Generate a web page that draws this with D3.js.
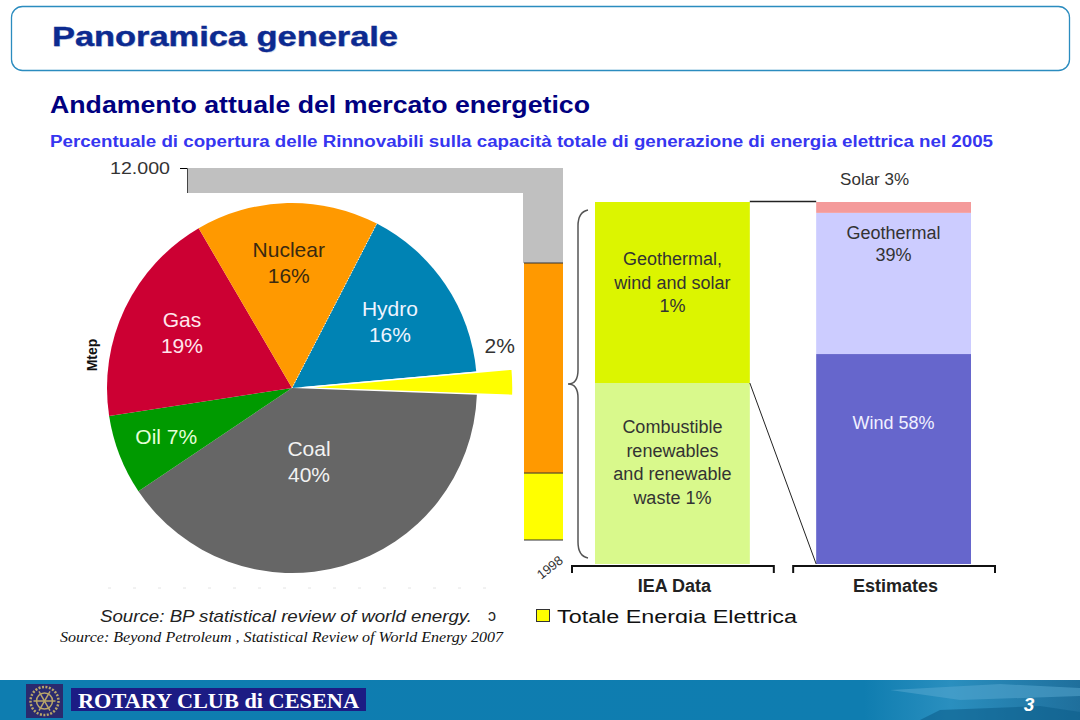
<!DOCTYPE html>
<html><head><meta charset="utf-8">
<script src="https://cdn.jsdelivr.net/npm/d3@7"></script>
<style>
body{margin:0;background:#fff}
svg{display:block;font-family:"Liberation Sans",Arial,sans-serif}
</style>
</head><body>
<svg id="c" width="1080" height="720"></svg>
<script>
// ---------------- DATA ----------------
const pieCategories = ["Hydro", "Other", "Coal", "Oil", "Gas", "Nuclear"];
const pieValues = [16, 2, 40, 7, 19, 16];
const pieLabels = [["Hydro", "16%"], ["2%"], ["Coal", "40%"], ["Oil 7%"], ["Gas", "19%"], ["Nuclear", "16%"]];

const mtepSeries = ["Totale Energia Elettrica", "Altri usi", "Resto"];
const mtepValues = [2160, 6775, 3065];
const mtepTicks = [12000];
const mtepYears = ["1998"];

const groupNames = ["IEA Data", "Estimates"];
const ieaCategories = ["Combustible renewables and renewable waste", "Geothermal, wind and solar"];
const ieaValues = [1, 1];
const ieaLabels = [["Combustible", "renewables", "and renewable", "waste 1%"], ["Geothermal,", "wind and solar", "1%"]];
const estCategories = ["Wind", "Geothermal", "Solar"];
const estValues = [58, 39, 3];
const estLabels = [["Wind 58%"], ["Geothermal", "39%"], ["Solar 3%"]];

// ---------------- STYLE ----------------
const SANS = "'Liberation Sans', Arial, sans-serif";
const SERIF = "'Liberation Serif', 'Times New Roman', serif";
const pieColors = {Hydro: "#0083b4", Other: "#ffff00", Coal: "#666666", Oil: "#009a00", Gas: "#cc0033", Nuclear: "#ff9900"};
const pieLabelColors = {Hydro: "#eef4ff", Other: "#333", Coal: "#f2f2f2", Oil: "#e4ffd8", Gas: "#ffe6ec", Nuclear: "#3a2a10"};
const pieLabelPos = {Hydro: {r: 118, da: 0}, Other: {r: 212, da: -10}, Coal: {r: 76, da: 3}, Oil: {r: 135, da: 0}, Gas: {r: 123, da: 1}, Nuclear: {r: 125, da: 0}};
const mtepColors = ["#ffff00", "#ff9900", "#c0c0c0"];
const ieaColors = ["#d9f98c", "#dcf500"];
const estColors = ["#6666cc", "#ccccff", "#f49a9a"];

const svg = d3.select("#c");
const defs = svg.append("defs");
const rad = d => d * Math.PI / 180;

// ---------------- TITLE ----------------
svg.append("rect").attr("x", 11.5).attr("y", 6.5).attr("width", 1058).attr("height", 64).attr("rx", 11)
  .attr("fill", "#fff").attr("stroke", "#2b8cbf").attr("stroke-width", 1.3);
svg.append("text").attr("x", 53).attr("y", 47).attr("font-size", 27).attr("font-weight", "bold")
  .attr("fill", "#e2e4ee").attr("textLength", 346).attr("lengthAdjust", "spacingAndGlyphs").text("Panoramica generale");
svg.append("text").attr("x", 52).attr("y", 46).attr("font-size", 27).attr("font-weight", "bold")
  .attr("fill", "#0c2a90").attr("stroke", "#0c2a90").attr("stroke-width", 0.4)
  .attr("textLength", 346).attr("lengthAdjust", "spacingAndGlyphs").text("Panoramica generale");
svg.append("text").attr("x", 50).attr("y", 113).attr("font-size", 23).attr("font-weight", "bold")
  .attr("fill", "#000080").attr("textLength", 540).attr("lengthAdjust", "spacingAndGlyphs").text("Andamento attuale del mercato energetico");
svg.append("text").attr("x", 50).attr("y", 147).attr("font-size", 16).attr("font-weight", "bold")
  .attr("fill", "#3636f0").attr("textLength", 943).attr("lengthAdjust", "spacingAndGlyphs")
  .text("Percentuale di copertura delle Rinnovabili sulla capacità totale di generazione di energia elettrica nel 2005");

// ---------------- BACKGROUND MTEP CHART ----------------
const itLocale = d3.formatLocale({decimal: ",", thousands: ".", grouping: [3], currency: ["€", ""]});
const yM = d3.scaleLinear().domain([0, 12000]).range([540, 168]);
const xM = d3.scaleBand().domain(mtepYears).range([524, 563]);
const axisX = 187;
const stackM = d3.stack().keys(mtepSeries)([Object.fromEntries(mtepSeries.map((k, i) => [k, mtepValues[i]]))]);
svg.append("g").selectAll("rect").data(stackM).join("rect")
  .attr("x", (d, i) => i === 2 ? axisX : xM("1998"))
  .attr("width", (d, i) => i === 2 ? xM("1998") + xM.bandwidth() - axisX : xM.bandwidth())
  .attr("y", d => yM(d[0][1])).attr("height", d => yM(d[0][0]) - yM(d[0][1]))
  .attr("fill", (d, i) => mtepColors[i]);
svg.append("g").selectAll("line").data(stackM.slice(0, 2)).join("line")
  .attr("x1", xM("1998")).attr("x2", xM("1998") + xM.bandwidth())
  .attr("y1", d => yM(d[0][1])).attr("y2", d => yM(d[0][1])).attr("stroke", "#333").attr("stroke-width", 1);
svg.append("line").attr("x1", xM("1998")).attr("x2", xM("1998") + xM.bandwidth())
  .attr("y1", yM(0)).attr("y2", yM(0)).attr("stroke", "#333");
const axM = svg.append("g").attr("transform", `translate(${axisX},0)`)
  .call(d3.axisLeft(yM).tickValues(mtepTicks).tickFormat(itLocale.format(",")).tickSize(7).tickPadding(10));
axM.select(".domain").attr("stroke", "#444");
axM.selectAll("text").attr("fill", "#333").style("font-size", "16px").style("font-family", SANS)
  .attr("textLength", 60).attr("lengthAdjust", "spacingAndGlyphs");
svg.append("text").attr("transform", `translate(${xM("1998") + xM.bandwidth() + 1},${yM(0) + 22}) rotate(-38)`)
  .attr("text-anchor", "end").attr("font-size", 13).attr("fill", "#333").text(mtepYears[0]);
svg.append("text").attr("transform", "translate(97,355) rotate(-90)").attr("text-anchor", "middle")
  .attr("font-size", 14).attr("font-weight", "bold").attr("fill", "#111").text("Mtep");

// white pie panel
svg.append("rect").attr("x", 103).attr("y", 193).attr("width", 420).attr("height", 397).attr("fill", "#fff");
svg.append("line").attr("x1", 108).attr("x2", 495).attr("y1", 588).attr("y2", 588)
  .attr("stroke", "#e4e4e4").attr("stroke-dasharray", "3,22");

// ---------------- PIE ----------------
const cx = 292, cy = 388, R = 185;
const start = rad(27.3);
const pie = d3.pie().sort(null).value(d => d).startAngle(start).endAngle(start + 2 * Math.PI);
const arcs = pie(pieValues).map((a, i) => ({...a, cat: pieCategories[i], lab: pieLabels[i]}));
const arc = d3.arc().innerRadius(0).outerRadius(R);
const arcBig = d3.arc().innerRadius(0).outerRadius(211);
const pg = svg.append("g").attr("transform", `translate(${cx},${cy})`);
pg.selectAll("path").data(arcs).join("path")
  .attr("d", d => d.cat === "Other" ? arcBig(d) : arc(d))
  .attr("transform", d => {
    if (d.cat !== "Other") return null;
    const m = (d.startAngle + d.endAngle) / 2;
    return `translate(${10 * Math.sin(m)},${-10 * Math.cos(m)})`;
  })
  .attr("fill", d => pieColors[d.cat])
  .attr("stroke", d => d.cat === "Other" ? "#fff" : "none").attr("stroke-width", 1.5);
pg.append("line").attr("x1", 0).attr("y1", 0)
  .attr("x2", R * Math.sin(start)).attr("y2", -R * Math.cos(start))
  .attr("stroke", "#fff").attr("stroke-width", 1).attr("stroke-dasharray", "1,2");
arcs.forEach(d => {
  const p = pieLabelPos[d.cat];
  const m = (d.startAngle + d.endAngle) / 2 + rad(p.da);
  const lx = p.r * Math.sin(m), ly = -p.r * Math.cos(m);
  const n = d.lab.length;
  const t = pg.append("text").attr("text-anchor", "middle").attr("font-size", 21).attr("fill", pieLabelColors[d.cat]);
  d.lab.forEach((s, i) => t.append("tspan").attr("x", lx).attr("y", ly + (i - (n - 1) / 2) * 26 + 7).text(s));
});

// ---------------- RENEWABLES ----------------
const xR = d3.scaleBand().domain(groupNames).range([595, 971]).paddingInner(0.3);
const yIEA = d3.scaleLinear().domain([0, d3.sum(ieaValues)]).range([564, 202]);
const yEst = d3.scaleLinear().domain([0, d3.sum(estValues)]).range([564, 202]);
const stackOf = (vals) => { let c = 0; return vals.map(v => { const s = [c, c + v]; c += v; return s; }); };
const ieaStack = stackOf(ieaValues), estStack = stackOf(estValues);

svg.append("g").selectAll("rect").data(ieaStack).join("rect")
  .attr("x", xR("IEA Data")).attr("width", xR.bandwidth())
  .attr("y", d => yIEA(d[1])).attr("height", d => yIEA(d[0]) - yIEA(d[1]))
  .attr("fill", (d, i) => ieaColors[i]);
svg.append("g").selectAll("rect").data(estStack).join("rect")
  .attr("x", xR("Estimates")).attr("width", xR.bandwidth())
  .attr("y", d => yEst(d[1])).attr("height", d => yEst(d[0]) - yEst(d[1]))
  .attr("fill", (d, i) => estColors[i]);

const lh = 23.5;
ieaStack.forEach((d, i) => {
  const lines = ieaLabels[i];
  const top = i === 1 ? yIEA(d[1]) + 63 : yIEA(d[1]) + 50;
  const t = svg.append("text").attr("text-anchor", "middle").attr("font-size", 18).attr("fill", "#333");
  lines.forEach((s, k) => t.append("tspan").attr("x", xR("IEA Data") + xR.bandwidth() / 2).attr("y", top + k * lh).text(s));
});
const estX = xR("Estimates") + xR.bandwidth() / 2;
{
  svg.append("text").attr("text-anchor", "middle").attr("font-size", 18).attr("fill", "#f0f0ff")
    .attr("x", estX).attr("y", yEst(estStack[0][1]) + 75).text(estLabels[0][0]);
  const t = svg.append("text").attr("text-anchor", "middle").attr("font-size", 18).attr("fill", "#333");
  estLabels[1].forEach((s, k) => t.append("tspan").attr("x", estX).attr("y", yEst(estStack[1][1]) + 26 + k * 22).text(s));
  svg.append("text").attr("text-anchor", "middle").attr("font-size", 17).attr("fill", "#333")
    .attr("x", estX - 19).attr("y", yEst(estStack[2][1]) - 17).text(estLabels[2][0]);
}
const ieaRight = xR("IEA Data") + xR.bandwidth();
svg.append("line").attr("x1", ieaRight).attr("y1", yIEA(ieaStack[1][1]) - 0.5).attr("x2", xR("Estimates")).attr("y2", yEst(100) - 0.5)
  .attr("stroke", "#222").attr("stroke-width", 1.5);
svg.append("line").attr("x1", ieaRight).attr("y1", yIEA(ieaStack[0][1])).attr("x2", xR("Estimates")).attr("y2", yEst(0))
  .attr("stroke", "#222").attr("stroke-width", 1);
const bt = 210, bb = 558, bm = 384, bx = 588, bmid = 578, btip = 568;
svg.append("path").attr("fill", "none").attr("stroke", "#555").attr("stroke-width", 1.5)
  .attr("d", `M${bx},${bt} Q${bmid},${bt + 2} ${bmid},${bt + 16} L${bmid},${bm - 14} Q${bmid},${bm} ${btip},${bm} Q${bmid},${bm} ${bmid},${bm + 14} L${bmid},${bb - 16} Q${bmid},${bb - 2} ${bx},${bb}`);
groupNames.forEach(g => {
  const x0 = xR(g) - 23, x1 = xR(g) + xR.bandwidth() + 24;
  svg.append("path").attr("fill", "none").attr("stroke", "#111").attr("stroke-width", 2)
    .attr("d", `M${x0},573 L${x0},566 L${x1},566 L${x1},573`);
  svg.append("text").attr("x", xR(g) + xR.bandwidth() / 2 + 2).attr("y", 592).attr("text-anchor", "middle")
    .attr("font-size", 18).attr("font-weight", "bold").attr("fill", "#222").text(g);
});

// ---------------- LEGEND & SOURCES ----------------
defs.append("clipPath").attr("id", "legclip").append("rect").attr("x", 500).attr("y", 600).attr("width", 400).attr("height", 23);
svg.append("rect").attr("x", 536.5).attr("y", 609.5).attr("width", 13).attr("height", 12).attr("fill", mtepColors[0]).attr("stroke", "#333");
svg.append("text").attr("clip-path", "url(#legclip)").attr("x", 557).attr("y", 623).attr("font-size", 18).attr("fill", "#111")
  .attr("textLength", 240).attr("lengthAdjust", "spacingAndGlyphs").text(mtepSeries[0]);
svg.append("text").attr("x", 100).attr("y", 622).attr("font-size", 17).attr("font-style", "italic").attr("fill", "#222")
  .attr("textLength", 372).attr("lengthAdjust", "spacingAndGlyphs").text("Source: BP statistical review of world energy.");
svg.append("text").attr("x", 488).attr("y", 621).attr("font-size", 16).attr("fill", "#222").text("ↄ");
svg.append("text").attr("x", 60).attr("y", 642).attr("font-size", 14).attr("font-style", "italic").attr("fill", "#111")
  .style("font-family", SERIF).attr("textLength", 443).attr("lengthAdjust", "spacingAndGlyphs")
  .text("Source: Beyond Petroleum , Statistical Review of World Energy 2007");

// ---------------- FOOTER ----------------
const gr = defs.append("linearGradient").attr("id", "fg").attr("x1", 0).attr("x2", 1).attr("y1", 0).attr("y2", 0);
gr.append("stop").attr("offset", "0%").attr("stop-color", "#0e7db0");
gr.append("stop").attr("offset", "80%").attr("stop-color", "#0f7db0");
gr.append("stop").attr("offset", "88%").attr("stop-color", "#2a8fbf");
gr.append("stop").attr("offset", "100%").attr("stop-color", "#1f6f9c");
svg.append("rect").attr("x", 0).attr("y", 680).attr("width", 1080).attr("height", 40).attr("fill", "url(#fg)");
svg.append("path").attr("d", "M890,690 L1000,684 L1080,688 L1080,696 L960,700 Z").attr("fill", "#5aaad2").attr("opacity", 0.5);
svg.append("path").attr("d", "M940,710 L1040,706 L1080,712 L1080,720 L920,720 Z").attr("fill", "#0d5f8c").attr("opacity", 0.6);
svg.append("rect").attr("x", 26).attr("y", 684).attr("width", 37).attr("height", 34).attr("fill", "#2a2a6e");
svg.append("circle").attr("cx", 44.5).attr("cy", 701).attr("r", 14).attr("fill", "none").attr("stroke", "#b9a66a").attr("stroke-width", 2.5).attr("stroke-dasharray", "2,1.5");
svg.append("circle").attr("cx", 44.5).attr("cy", 701).attr("r", 8).attr("fill", "none").attr("stroke", "#b9a66a").attr("stroke-width", 1.5);
d3.range(6).forEach(i => {
  const a = i * Math.PI / 3;
  svg.append("line").attr("x1", 44.5).attr("y1", 701).attr("x2", 44.5 + 11 * Math.cos(a)).attr("y2", 701 + 11 * Math.sin(a))
    .attr("stroke", "#b9a66a").attr("stroke-width", 1.5);
});
svg.append("rect").attr("x", 71).attr("y", 688).attr("width", 295).attr("height", 23).attr("fill", "#1c1c84");
svg.append("text").attr("x", 78).attr("y", 708).attr("font-size", 21).attr("font-weight", "bold").attr("fill", "#fff")
  .style("font-family", SERIF).attr("textLength", 281).attr("lengthAdjust", "spacingAndGlyphs")
  .text("ROTARY CLUB di CESENA");
svg.append("text").attr("x", 1029).attr("y", 711).attr("text-anchor", "middle").attr("font-size", 19).attr("font-weight", "bold")
  .attr("font-style", "italic").attr("fill", "#fff").text("3");
</script>
</body></html>
